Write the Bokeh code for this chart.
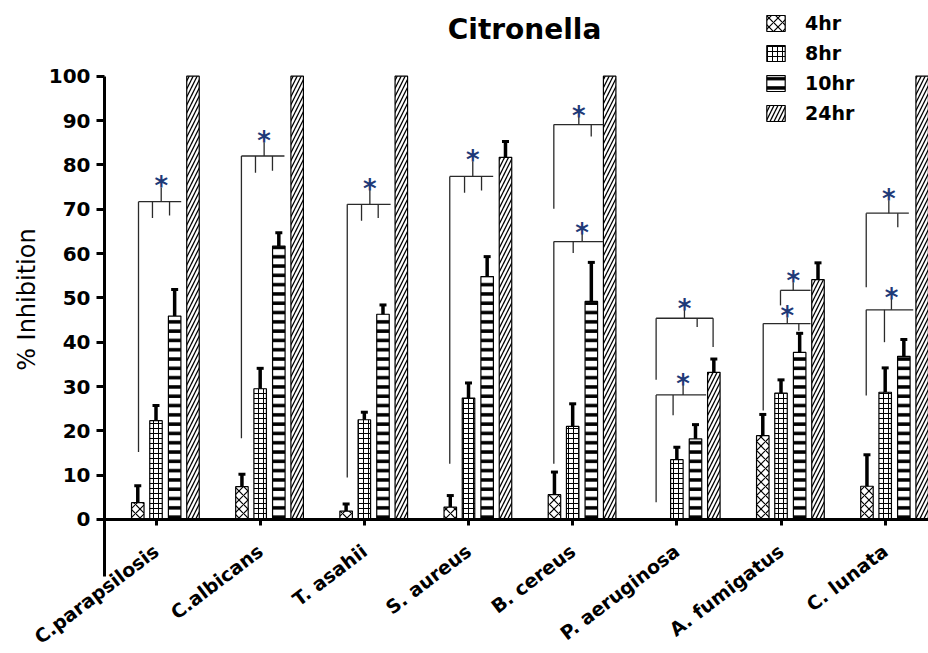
import numpy as np
from bokeh.plotting import figure
from bokeh.models import Range1d, FixedTicker, Legend, LegendItem, ColumnDataSource
from bokeh.core.properties import value
from bokeh.embed import file_html
from bokeh.resources import INLINE

# ---------------- data ----------------
categories = ["C.parapsilosis", "C.albicans", "T. asahii", "S. aureus",
              "B. cereus", "P. aeruginosa", "A. fumigatus", "C. lunata"]
series = ["4hr", "8hr", "10hr", "24hr"]

inh_4hr = [3.8, 7.4, 1.9, 2.8, 5.6, 0.0, 18.9, 7.5]
inh_8hr = [22.3, 29.5, 22.5, 27.4, 21.0, 13.5, 28.5, 28.7]
inh_10hr = [45.9, 61.7, 46.3, 54.8, 49.2, 18.2, 37.7, 36.8]
inh_24hr = [100, 100, 100, 81.7, 100, 33.2, 54.1, 100]

err_4hr = [3.8, 2.8, 1.6, 2.6, 5.1, 0.0, 4.8, 7.1]
err_8hr = [3.4, 4.6, 1.7, 3.4, 5.1, 2.8, 3.0, 5.5]
err_10hr = [6.0, 3.0, 2.1, 4.5, 8.8, 3.2, 4.3, 3.8]
err_24hr = [0, 0, 0, 3.6, 0, 3.0, 3.8, 0]

y_ticks = [0, 10, 20, 30, 40, 50, 60, 70, 80, 90, 100]

# significance brackets (category, level, span, left-leg end, stem, drops)
br_cat = [0, 1, 2, 3, 4, 4, 5, 5, 6, 6, 7, 7]
br_level = [71.7, 82.0, 71.1, 77.4, 89.1, 62.7, 45.4, 28.1, 44.2, 51.7, 69.1, 47.3]
br_x0 = [-0.168, -0.180, -0.164, -0.180, -0.181, -0.181, -0.199, -0.199, -0.171, -0.005, -0.182, -0.182]
br_x1 = [0.242, 0.233, 0.252, 0.237, 0.299, 0.296, 0.348, 0.281, 0.283, 0.283, 0.227, 0.269]
br_left_end = [15.2, 18.3, 9.5, 12.6, 70.1, 12.6, 31.5, 3.9, 24.6, 48.3, 52.4, 28.0]
br_stem_x = [0.050, 0.038, 0.053, 0.041, 0.059, 0.091, 0.073, 0.060, 0.060, 0.117, 0.035, 0.060]
br_stem_top = [74.9, 85.1, 74.4, 80.8, 90.8, 64.4, 47.3, 30.4, 45.6, 53.5, 72.0, 49.8]
br_drop_x = [[-0.034, 0.130], [-0.045, 0.118], [-0.027, 0.133], [-0.038, 0.125], [0.178], [0.005],
             [0.195, 0.348], [-0.036], [0.171], [], [0.121], [-0.007]]
br_drop_end = [[68.0, 68.6], [78.2, 78.7], [67.4, 68.0], [73.7, 74.2], [86.4], [60.1],
               [43.4, 38.9], [23.5], [42.6], [], [65.9], [40.0]]

# ---------------- styles ----------------
FONT = "DejaVu Sans"
offsets = [-0.175, 0.0, 0.179, 0.355]
bar_w = 0.12
hatches = [("diagonal_cross", 9, 1.2), ("cross", 5, 1.0),
           ("horizontal_line", 9.3, 3.5), ("right_diagonal_line", 8, 1.3)]
X_LEFT, X_RIGHT = -0.4944, 7.4158       # where the y axis sits / right edge
Y_LOW = -12.86                          # bottom end of the y-axis line

p = figure(width=928, height=653,
           x_range=Range1d(-1.4928, X_RIGHT), y_range=Range1d(-30.23, 117.08),
           output_backend="svg", toolbar_location=None,
           min_border_left=0, min_border_right=0, min_border_top=0, min_border_bottom=0)
p.outline_line_color = None
p.grid.visible = False
p.background_fill_color = "white"
p.border_fill_color = "white"

means = [inh_4hr, inh_8hr, inh_10hr, inh_24hr]
errs = [err_4hr, err_8hr, err_10hr, err_24hr]
idx = np.arange(len(categories))

legend_items = []
for k, name in enumerate(series):
    xs = idx + offsets[k]
    src = ColumnDataSource(dict(x=xs, top=means[k]))
    hp, hs, hw = hatches[k]
    r = p.vbar(x="x", top="top", width=bar_w, bottom=0, source=src,
               fill_color="white", line_color="black", line_width=1.2,
               hatch_pattern=hp, hatch_scale=hs, hatch_weight=hw, hatch_color="black")
    legend_items.append(LegendItem(label=name, renderers=[r]))
    m = np.array(means[k], dtype=float)
    e = np.array(errs[k], dtype=float)
    sel = e > 0
    p.segment(x0=xs[sel], y0=m[sel], x1=xs[sel], y1=(m + e)[sel],
              line_color="black", line_width=3.5)
    p.scatter(x=xs[sel], y=(m + e)[sel], marker="dash", size=7,
              line_color="black", line_width=3)

# brackets
sx0, sy0, sx1, sy1 = [], [], [], []
star_x, star_y = [], []
for i in range(len(br_cat)):
    c = br_cat[i]
    lv = br_level[i]
    sx0.append(c + br_x0[i]); sy0.append(lv); sx1.append(c + br_x1[i]); sy1.append(lv)
    sx0.append(c + br_x0[i]); sy0.append(lv); sx1.append(c + br_x0[i]); sy1.append(br_left_end[i])
    sx0.append(c + br_stem_x[i]); sy0.append(lv); sx1.append(c + br_stem_x[i]); sy1.append(br_stem_top[i])
    for dx, dy in zip(br_drop_x[i], br_drop_end[i]):
        sx0.append(c + dx); sy0.append(lv); sx1.append(c + dx); sy1.append(dy)
    star_x.append(c + br_stem_x[i]); star_y.append(br_stem_top[i])

p.segment(x0=sx0, y0=sy0, x1=sx1, y1=sy1, line_color="#2a2a2a", line_width=1.3)
p.text(x=star_x, y=star_y, text=["*"] * len(star_x), text_align="center",
       text_baseline="alphabetic", y_offset=-1, text_color="#1f3a78",
       text_font=value(FONT), text_font_style="bold", text_font_size="26px")

# title
p.text(x=[3.538], y=[110.65], text=["Citronella"], text_align="center", text_baseline="middle",
       text_font=value(FONT), text_font_style="bold", text_font_size="28px", text_color="black")

# y-axis title
p.text(x=[-1.243], y=[49.6], text=["% Inhibition"], angle=np.pi / 2,
       text_align="center", text_baseline="middle",
       text_font=value(FONT), text_font_style="normal", text_font_size="24px", text_color="black")

# y axis
ya = p.yaxis[0]
ya.fixed_location = X_LEFT
ya.ticker = FixedTicker(ticks=y_ticks)
ya.bounds = (Y_LOW, 100)
ya.axis_line_width = 3
ya.major_tick_line_width = 3
ya.major_tick_out = 8
ya.major_tick_in = 0
ya.minor_tick_out = 0
ya.minor_tick_in = 0
ya.major_label_standoff = 6
ya.major_label_text_font = FONT
ya.major_label_text_font_style = "bold"
ya.major_label_text_font_size = "20px"
ya.major_label_text_color = "black"

# x axis at y = 0 with category labels
xa = p.xaxis[0]
xa.fixed_location = 0
xa.bounds = (X_LEFT, X_RIGHT)
xa.ticker = FixedTicker(ticks=list(range(len(categories))))
xa.major_label_overrides = {i: c for i, c in enumerate(categories)}
xa.major_label_orientation = 0.65
xa.axis_line_width = 3
xa.major_tick_line_width = 3
xa.major_tick_out = 6
xa.major_tick_in = 0
xa.minor_tick_out = 0
xa.minor_tick_in = 0
xa.major_label_standoff = 23
xa.major_label_text_font = FONT
xa.major_label_text_font_style = "bold"
xa.major_label_text_font_size = "19px"
xa.major_label_text_color = "black"

legend = Legend(items=legend_items, location=(764, 529), orientation="vertical",
                glyph_width=23, glyph_height=20, spacing=8, label_standoff=18,
                padding=0, margin=0, border_line_color=None, background_fill_alpha=0,
                label_text_font=FONT, label_text_font_style="bold",
                label_text_font_size="19px", label_height=20, label_text_color="black")
p.add_layout(legend)

open("out.html", "w").write(file_html(p, INLINE))
